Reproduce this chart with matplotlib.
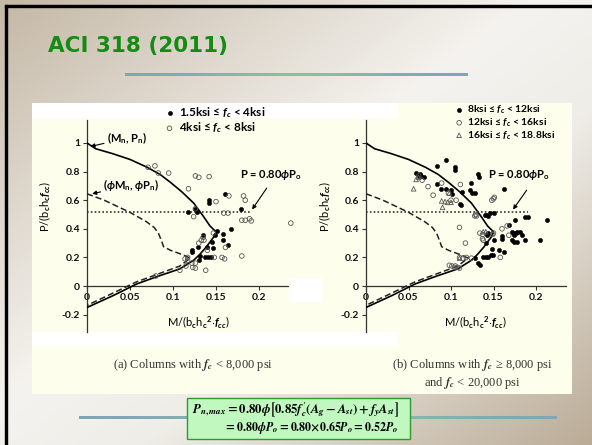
"""Recreate the ACI 318 (2011) slide: normalised P-M interaction diagrams with test data."""
import numpy as np
import matplotlib
matplotlib.use("Agg")
import matplotlib.pyplot as plt  # noqa: E402
from matplotlib.patches import Rectangle  # noqa: E402

W, H = 592, 445

plt.rcParams["font.family"] = ["Lato", "DejaVu Sans"]
plt.rcParams["font.weight"] = "bold"
plt.rcParams["mathtext.fontset"] = "custom"
plt.rcParams["mathtext.rm"] = "Lato:bold"
plt.rcParams["mathtext.it"] = "Lato:italic:bold"
plt.rcParams["mathtext.bf"] = "Lato:bold"

# ---- interaction curves (same in both panels) ----
NOMINAL_M = [0, 0.01, 0.03, 0.05, 0.07, 0.085, 0.097, 0.11, 0.124, 0.135, 0.143, 0.149, 0.15,
             0.147, 0.139, 0.131, 0.124, 0.108, 0.081, 0.058, 0.03, 0]
NOMINAL_P = [1.0, 0.96, 0.925, 0.885, 0.83, 0.78, 0.725, 0.66, 0.58, 0.49, 0.42, 0.385, 0.375,
             0.34, 0.275, 0.22, 0.18, 0.12, 0.065, 0.015, -0.068, -0.15]
DESIGN_M = [0, 0.02, 0.05, 0.069, 0.078, 0.083, 0.087, 0.089, 0.097, 0.112, 0.12,
            0.108, 0.08, 0.058, 0.03, 0]
DESIGN_P = [0.645, 0.6, 0.515, 0.45, 0.41, 0.37, 0.31, 0.275, 0.25, 0.217, 0.195,
            0.14, 0.078, 0.03, -0.05, -0.135]
P_CAP = 0.52
P_CAP_M_END = 0.19

# ---- panel (a): f'c < 8 ksi ----
A_LOW_M = [0.117, 0.126, 0.128, 0.142, 0.142, 0.160, 0.179, 0.151, 0.135, 0.149, 0.158, 0.168,
           0.158, 0.129, 0.145, 0.139, 0.147, 0.122, 0.122, 0.137, 0.141, 0.144, 0.131, 0.130, 0.164]
A_LOW_P = [0.52, 0.54, 0.52, 0.58, 0.60, 0.64, 0.54, 0.385, 0.36, 0.36, 0.365, 0.40,
           0.32, 0.275, 0.31, 0.275, 0.265, 0.25, 0.235, 0.2, 0.2, 0.2, 0.21, 0.18, 0.285]
A_MID_M = [0.071, 0.079, 0.083, 0.095, 0.126, 0.130, 0.142, 0.118, 0.126, 0.124, 0.150, 0.165,
           0.159, 0.164, 0.182, 0.184, 0.180, 0.184, 0.189, 0.191, 0.237, 0.133, 0.136, 0.135,
           0.147, 0.157, 0.160, 0.148, 0.138, 0.123, 0.126, 0.122, 0.126, 0.108, 0.115, 0.117,
           0.114, 0.117, 0.180, 0.161, 0.080, 0.140, 0.130]
A_MID_P = [0.83, 0.84, 0.79, 0.79, 0.77, 0.76, 0.765, 0.68, 0.54, 0.485, 0.59, 0.63,
           0.51, 0.51, 0.63, 0.60, 0.46, 0.46, 0.47, 0.455, 0.44, 0.32, 0.32, 0.34,
           0.37, 0.2, 0.19, 0.2, 0.11, 0.13, 0.125, 0.16, 0.16, 0.11, 0.14, 0.18,
           0.19, 0.2, 0.21, 0.27, 0.07, 0.25, 0.3]

# ---- panel (b): 8 ksi <= f'c < 20 ksi ----
B_HI_M = [0.084, 0.094, 0.105, 0.105, 0.132, 0.133, 0.059, 0.062, 0.065, 0.068, 0.064, 0.083,
          0.088, 0.094, 0.100, 0.101, 0.110, 0.112, 0.113, 0.122, 0.125, 0.128, 0.124, 0.140,
          0.142, 0.144, 0.146, 0.151, 0.162, 0.175, 0.187, 0.190, 0.2125, 0.172, 0.173, 0.174,
          0.176, 0.178, 0.172, 0.174, 0.178, 0.181, 0.183, 0.168, 0.160, 0.160, 0.187, 0.205,
          0.162, 0.157, 0.148, 0.150, 0.141, 0.142, 0.144, 0.134, 0.132, 0.138, 0.141, 0.128,
          0.147, 0.149, 0.144]
B_HI_P = [0.84, 0.88, 0.83, 0.81, 0.78, 0.76, 0.79, 0.77, 0.77, 0.76, 0.78, 0.71,
          0.675, 0.675, 0.67, 0.64, 0.57, 0.565, 0.66, 0.67, 0.65, 0.65, 0.72, 0.5,
          0.5, 0.49, 0.51, 0.51, 0.675, 0.46, 0.485, 0.485, 0.46, 0.38, 0.37, 0.36,
          0.37, 0.38, 0.32, 0.31, 0.305, 0.38, 0.36, 0.43, 0.33, 0.35, 0.32, 0.32,
          0.24, 0.255, 0.26, 0.32, 0.3, 0.36, 0.37, 0.147, 0.16, 0.2, 0.2, 0.195,
          0.215, 0.22, 0.2]
B_VHI_M = [0.062, 0.066, 0.073, 0.079, 0.089, 0.097, 0.111, 0.100, 0.106, 0.128, 0.130, 0.129,
           0.110, 0.117, 0.148, 0.150, 0.151, 0.138, 0.137, 0.134, 0.137, 0.150, 0.149, 0.160,
           0.168, 0.166, 0.158, 0.110, 0.114, 0.118, 0.124, 0.098, 0.101, 0.105, 0.104, 0.108,
           0.110]
B_VHI_P = [0.77, 0.74, 0.695, 0.635, 0.72, 0.65, 0.71, 0.6, 0.6, 0.49, 0.49, 0.5,
           0.41, 0.3, 0.6, 0.61, 0.62, 0.32, 0.33, 0.37, 0.36, 0.37, 0.36, 0.4,
           0.355, 0.42, 0.2, 0.2, 0.195, 0.2, 0.195, 0.145, 0.14, 0.14, 0.13, 0.13,
           0.125]
B_UHI_M = [0.059, 0.056, 0.062, 0.089, 0.090, 0.093, 0.096, 0.100, 0.098, 0.138, 0.141, 0.110]
B_UHI_P = [0.745, 0.68, 0.76, 0.595, 0.55, 0.59, 0.585, 0.585, 0.65, 0.38, 0.38, 0.195]

Y_TICKS = [-0.2, 0, 0.2, 0.4, 0.6, 0.8, 1]
Y_TICK_LABELS = ["-0.2", "0", "0.2", "0.4", "0.6", "0.8", "1"]
X_TICKS = [0, 0.05, 0.1, 0.15, 0.2]
X_TICK_LABELS = ["0", "0.05", "0.1", "0.15", "0.2"]

PANEL = "#fefeec"
YLIM = (-0.32, 1.16)


def px_rect(x0, y0, x1, y1):
    """Figure-fraction rect from slide pixel box (y measured from top)."""
    return [x0 / W, 1 - y1 / H, (x1 - x0) / W, (y1 - y0) / H]


def h_gradient(ax, x0, x1, y, thick, cols):
    strip = np.array(cols)[None, :, :] / 255
    ax.imshow(strip, extent=[x0, x1, y + thick / 2, y - thick / 2], aspect="auto",
              interpolation="bicubic", zorder=2)


def setup_axes(ax, xmax):
    ax.set_facecolor("none")
    ax.set_xlim(0, xmax)
    ax.set_ylim(*YLIM)
    for s in ("top", "right"):
        ax.spines[s].set_visible(False)
    ax.spines["bottom"].set_position(("data", 0))
    for s in ("left", "bottom"):
        ax.spines[s].set_color("#333333")
        ax.spines[s].set_linewidth(0.9)
    ax.set_yticks(Y_TICKS, labels=Y_TICK_LABELS)
    ax.set_xticks(X_TICKS, labels=X_TICK_LABELS)
    ax.tick_params(direction="out", length=3, width=0.8, color="#333333",
                   labelsize=7.5, pad=2, labelcolor="#111111")
    ax.set_ylabel(r"P/(b$_\mathrm{c}$h$_\mathrm{c}$$f_{cc}$)", fontsize=8, va="center")
    ax.set_xlabel(r"M/(b$_\mathrm{c}$h$_\mathrm{c}$$^\mathrm{2}$$\cdot f_{cc}$)", fontsize=8,
                  va="center")
    ax.plot(NOMINAL_M, NOMINAL_P, color="black", lw=1.2, zorder=3)
    ax.plot(DESIGN_M, DESIGN_P, color="#222222", lw=1.1, ls=(0, (4, 2)), zorder=3)
    ax.plot([0, P_CAP_M_END], [P_CAP, P_CAP], color="#333333", lw=1.2, ls=(0, (1, 1.3)), zorder=3)


def filled(ax, m, p, label, marker="o"):
    return ax.scatter(m, p, s=9, marker=marker, facecolor="black", edgecolor="black",
                      linewidth=0.4, zorder=4, label=label)


def hollow(ax, m, p, label, marker="o"):
    return ax.scatter(m, p, s=11, marker=marker, facecolor="none", edgecolor="#555555",
                      linewidth=0.6, zorder=4, label=label)


def main():
    fig = plt.figure(figsize=(W / 100, H / 100), dpi=100)

    bg = fig.add_axes([0, 0, 1, 1], zorder=-5)
    bg.set_xlim(0, W)
    bg.set_ylim(H, 0)
    bg.axis("off")

    yy, xx = np.mgrid[0:H, 0:W]
    t = (xx / W + yy / H) / 2
    stops = [0, 0.45, 0.62, 1]
    cols = np.array([[196, 184, 166], [245, 243, 239], [239, 237, 232], [186, 171, 150]]) / 255
    img = np.stack([np.interp(t, stops, cols[:, k]) for k in range(3)], axis=-1)
    bg.imshow(img, extent=[0, W, H, 0], aspect="auto", zorder=0)

    # slide frame (top/left edge)
    bg.add_patch(Rectangle((5, 5), 2, H, color="black", zorder=1))
    bg.add_patch(Rectangle((5, 5), W, 2, color="black", zorder=1))

    bg.text(48, 52, "ACI 318 (2011)", color="#148c14", fontsize=15.5, fontweight="bold",
            family="DejaVu Sans", va="baseline", ha="left")
    h_gradient(bg, 125, 468, 75, 3, [[126, 165, 187], [143, 207, 143], [126, 165, 187]])

    # picture panel
    bg.add_patch(Rectangle((32, 103), 540, 291, facecolor=PANEL, edgecolor="none", zorder=1))
    bg.add_patch(Rectangle((32, 103), 366, 16, facecolor="white", edgecolor="none", zorder=1))
    bg.add_patch(Rectangle((32, 332), 366, 15, facecolor="white", edgecolor="none", zorder=1))

    cap = dict(family="Liberation Serif", fontweight="normal", fontsize=9, color="#333333",
               math_fontfamily="stix", ha="center", va="center")
    bg.text(193.5, 365, r"(a) Columns with $f_c$ < 8,000 psi", **cap)
    bg.text(472, 365, "(b) Columns with $f_c$ \u2265 8,000 psi", **cap)
    bg.text(472, 383, r"and $f_c$ < 20,000 psi", **cap)

    h_gradient(bg, 79, 557, 418, 3, [[126, 165, 187], [143, 207, 143], [126, 165, 187]])
    bg.add_patch(Rectangle((187, 398), 223, 41, facecolor="#c0f8c0", edgecolor="#2f9a2f",
                           linewidth=1, zorder=3))
    eq = dict(math_fontfamily="stix", family="Liberation Serif", fontweight="normal",
              color="black", ha="left", va="center", zorder=4)
    bg.text(192, 410, r"$P_{n,max} = 0.80\phi\left[0.85f_c^{\prime}\left(A_g - A_{st}\right)"
                      r" + f_yA_{st}\right]$", fontsize=9.2, **eq)
    bg.text(224, 427, r"$= 0.80\phi P_o = 0.80{\times}0.65P_o = 0.52P_o$", fontsize=8.6, **eq)

    # ---- panel (a)
    ax1 = fig.add_axes(px_rect(87, 120.1, 87 + 0.25 * 860, 331.8))
    setup_axes(ax1, 0.25)
    f1 = filled(ax1, A_LOW_M, A_LOW_P, "1.5ksi \u2264 $f_c$ < 4ksi")
    h1 = hollow(ax1, A_MID_M, A_MID_P, "4ksi \u2264 $f_c$ < 8ksi")
    ax1.yaxis.set_label_coords(-0.195, 0.594)
    ax1.xaxis.set_label_coords(0.516, 0.046)
    ax1.legend(handles=[f1, h1], loc="upper left", bbox_to_anchor=(166 / W, 1 - 105 / H),
               bbox_transform=fig.transFigure, frameon=False, fontsize=8.5, handlelength=0.6,
               handletextpad=0.5, borderpad=0, borderaxespad=0, labelspacing=0.05)
    arrow = dict(arrowstyle="-|>", color="black", lw=0.8, mutation_scale=6, shrinkA=0, shrinkB=0)
    ax1.annotate(r"(M$_\mathrm{n}$, P$_\mathrm{n}$)", xy=(0.004, 0.975), xytext=(0.023, 1.035),
                 fontsize=8, va="center", ha="left", arrowprops=arrow, annotation_clip=False)
    ax1.annotate(r"($\phi$M$_\mathrm{n}$, $\phi$P$_\mathrm{n}$)", xy=(0.006, 0.645),
                 xytext=(0.019, 0.706), fontsize=8, va="center", ha="left", arrowprops=arrow,
                 annotation_clip=False)
    ax1.annotate("", xy=(0.192, 0.535), xytext=(0.209, 0.685), arrowprops=arrow,
                 annotation_clip=False)
    ax1.text(0.178, 0.776, r"P = 0.80$\phi$P$_\mathrm{o}$", fontsize=8, va="center", ha="left")

    # ---- panel (b)
    ax2 = fig.add_axes(px_rect(366, 120.1, 366 + 0.235 * 850, 331.8))
    setup_axes(ax2, 0.235)
    f2 = filled(ax2, B_HI_M, B_HI_P, "8ksi \u2264 $f_c$ < 12ksi")
    h2 = hollow(ax2, B_VHI_M, B_VHI_P, "12ksi \u2264 $f_c$ < 16ksi")
    t2 = hollow(ax2, B_UHI_M, B_UHI_P, "16ksi \u2264 $f_c$ < 18.8ksi", marker="^")
    ax2.yaxis.set_label_coords(-0.205, 0.594)
    ax2.xaxis.set_label_coords(0.546, 0.046)
    ax2.legend(handles=[f2, h2, t2], loc="upper left", bbox_to_anchor=(456 / W, 1 - 104 / H),
               bbox_transform=fig.transFigure, frameon=False, fontsize=7.5, handlelength=0.6,
               handletextpad=0.5, borderpad=0, borderaxespad=0, labelspacing=0.0)
    ax2.annotate("", xy=(0.173, 0.535), xytext=(0.189, 0.67), arrowprops=arrow,
                 annotation_clip=False)
    ax2.text(0.1435, 0.776, r"P = 0.80$\phi$P$_\mathrm{o}$", fontsize=8, va="center", ha="left")

    # white patch over the end of panel (a)'s M axis
    top = fig.add_axes([0, 0, 1, 1], zorder=10)
    top.set_xlim(0, W)
    top.set_ylim(H, 0)
    top.axis("off")
    top.add_patch(Rectangle((289, 278), 33, 24, facecolor="white", edgecolor="none"))

    fig.savefig("out.png", dpi=100)
    plt.close(fig)


if __name__ == "__main__":
    main()
